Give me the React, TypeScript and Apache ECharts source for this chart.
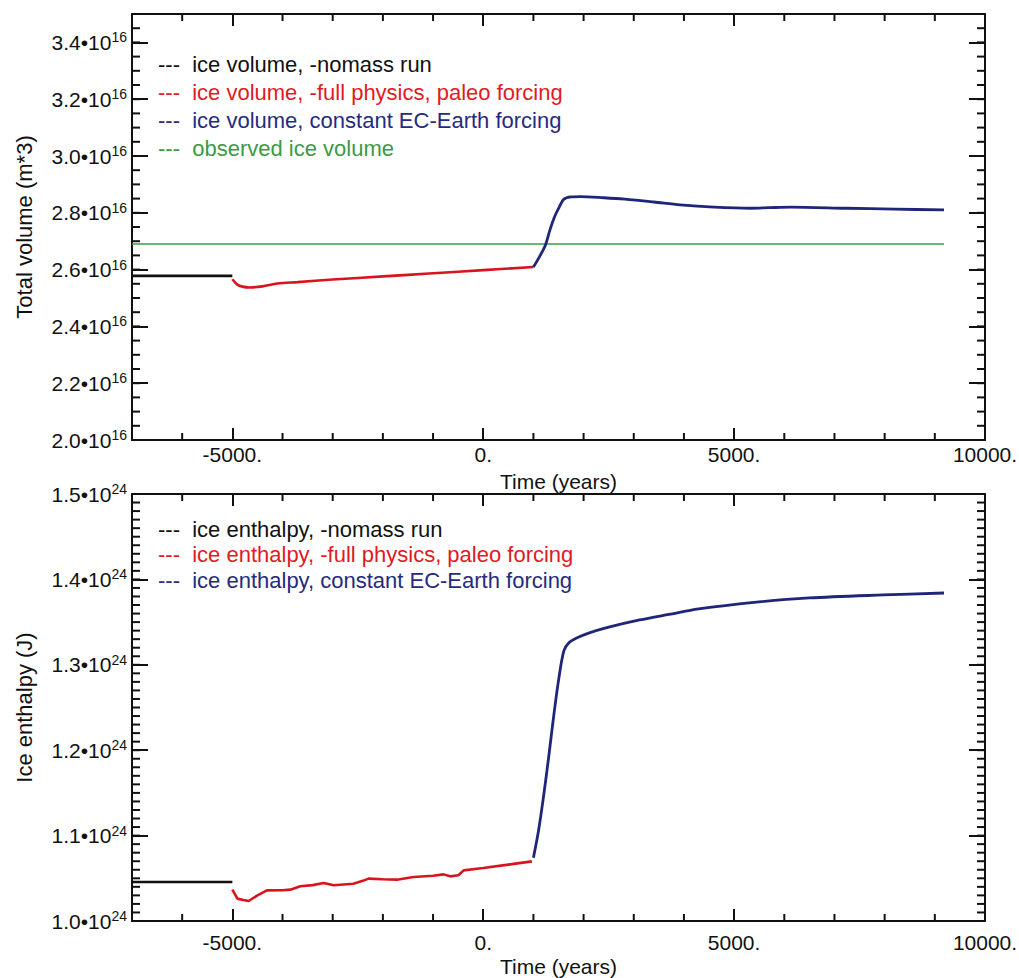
import React, { useEffect, useRef } from 'react';
import * as echarts from 'echarts';

// ---------- axis / tick definitions ----------
const xRange = [-7000, 10000];
const xMajorTicks = [-5000, 0, 5000, 10000];
const xMinorTicks = [-7000, -6000, -4000, -3000, -2000, -1000, 1000, 2000, 3000, 4000, 6000, 7000, 8000, 9000];
const volRange = [2.0, 3.5];
const volMajorTicks = [2.0, 2.2, 2.4, 2.6, 2.8, 3.0, 3.2, 3.4];
const enthRange = [1.0, 1.5];
const enthMajorTicks = [1.0, 1.1, 1.2, 1.3, 1.4, 1.5];
const volMinorTicks: number[] = [];
for (let i = 1; i < 30; i++) volMinorTicks.push(Math.round((2.0 + 0.05 * i) * 1000) / 1000);
const enthMinorTicks: number[] = [];
for (let i = 1; i < 50; i++) enthMinorTicks.push(Math.round((1.0 + 0.01 * i) * 1000) / 1000);

// ---------- top panel: total volume (units of 1e16 m^3) ----------
const volNomassYears = [-7000, -5000];
const volNomass = [2.578, 2.578];

const volPaleoYears = [-5000, -4900, -4800, -4660, -4400, -4100, -3700, -3000, -2000, -1000, 0, 1000];
const volPaleo = [2.566, 2.547, 2.540, 2.537, 2.541, 2.551, 2.556, 2.565, 2.576, 2.587, 2.598, 2.609];

const volECYears = [1000, 1120, 1240, 1330, 1424, 1520, 1608, 1750, 1938, 2400, 2820, 3400, 3924, 4600, 5323, 5700, 6131, 7235, 8200, 9183];
const volEC = [2.609, 2.645, 2.687, 2.740, 2.787, 2.822, 2.848, 2.856, 2.857, 2.853, 2.848, 2.838, 2.828, 2.820, 2.816, 2.818, 2.820, 2.816, 2.813, 2.810];

const volObsYears = [-7000, 9183];
const volObs = [2.690, 2.690];

// ---------- bottom panel: ice enthalpy (units of 1e24 J) ----------
const enthNomassYears = [-7000, -5000];
const enthNomass = [1.0456, 1.0456];

const enthPaleoYears = [-5000, -4900, -4780, -4675, -4500, -4310, -4000, -3845, -3645, -3400, -3180, -2980, -2590, -2400, -2285, -2000, -1720, -1390, -1000, -790, -660, -495, -390, 0, 500, 970];
const enthPaleo = [1.0367, 1.0262, 1.0245, 1.0234, 1.0300, 1.0359, 1.0360, 1.0367, 1.0406, 1.0420, 1.0444, 1.0418, 1.0437, 1.0470, 1.0496, 1.0488, 1.0484, 1.0515, 1.0530, 1.0546, 1.0523, 1.0535, 1.0593, 1.0620, 1.0660, 1.0698];

const enthECYears = [1000, 1100, 1200, 1300, 1400, 1500, 1608, 1717, 1850, 2086, 2500, 3116, 3700, 4293, 5396, 6500, 7970, 9183];
const enthEC = [1.074, 1.105, 1.145, 1.190, 1.238, 1.2815, 1.3166, 1.3263, 1.331, 1.3368, 1.344, 1.3525, 1.359, 1.3654, 1.3731, 1.3783, 1.3818, 1.3841];

// ---------- legend labels ----------
const volLegend = [
  { text: 'ice volume, -nomass run', color: '#111111' },
  { text: 'ice volume, -full physics, paleo forcing', color: '#e01b24' },
  { text: 'ice volume, constant EC-Earth forcing', color: '#262b7e' },
  { text: 'observed ice volume', color: '#3a9a45' },
];
const enthLegend = [
  { text: 'ice enthalpy, -nomass run', color: '#111111' },
  { text: 'ice enthalpy, -full physics, paleo forcing', color: '#e01b24' },
  { text: 'ice enthalpy, constant EC-Earth forcing', color: '#262b7e' },
];

const FONT = '"Liberation Sans", Arial, Helvetica, sans-serif';
const INK = '#111111';
const axisLine = { color: INK, width: 2 };

const zip = (xs: number[], ys: number[]) => xs.map((x, i) => [x, ys[i]]);

function xAxesFor(grid: number, labelMargin: number, nameGap: number) {
  const base = {
    gridIndex: grid,
    type: 'value',
    min: xRange[0],
    max: xRange[1],
    splitLine: { show: false },
  };
  return [
    {
      ...base,
      position: 'bottom',
      axisLine: { show: true, onZero: false, lineStyle: axisLine },
      axisTick: { show: true, inside: true, length: 12, customValues: xMajorTicks, lineStyle: { color: INK, width: 2 } },
      axisLabel: {
        show: true,
        customValues: xMajorTicks,
        formatter: (v: number) => `${v}.`,
        fontSize: 21,
        fontFamily: FONT,
        color: INK,
        margin: labelMargin,
      },
      name: 'Time (years)',
      nameLocation: 'middle',
      nameGap,
      nameTextStyle: { fontSize: 21, fontFamily: FONT, color: INK },
    },
    {
      ...base,
      position: 'top',
      axisLine: { show: true, onZero: false, lineStyle: axisLine },
      axisTick: { show: true, inside: true, length: 12, customValues: xMajorTicks, lineStyle: { color: INK, width: 2 } },
      axisLabel: { show: false },
    },
  ];
}

function yAxesFor(grid: number, range: number[], major: number[], exp: string, name: string) {
  const base = {
    gridIndex: grid,
    type: 'value',
    min: range[0],
    max: range[1],
    splitLine: { show: false },
  };
  return [
    {
      ...base,
      position: 'left',
      axisLine: { show: true, onZero: false, lineStyle: axisLine },
      axisTick: { show: true, inside: true, length: 16, customValues: major, lineStyle: { color: INK, width: 2 } },
      axisLabel: {
        show: true,
        margin: 5,
        customValues: major,
        formatter: (v: number) => `{a|${v.toFixed(1)}\u202210}{b|${exp}}`,
        rich: {
          a: { fontSize: 21, lineHeight: 24, fontFamily: FONT, color: INK },
          b: { fontSize: 14, lineHeight: 14, fontFamily: FONT, color: INK, verticalAlign: 'top' },
        },
      },
      name,
      nameLocation: 'middle',
      nameGap: 97,
      nameTextStyle: { fontSize: 22, fontFamily: FONT, color: INK },
    },
    {
      ...base,
      position: 'right',
      axisLine: { show: true, onZero: false, lineStyle: axisLine },
      axisTick: { show: true, inside: true, length: 16, customValues: major, lineStyle: { color: INK, width: 2 } },
      axisLabel: { show: false },
    },
  ];
}

function lineSeries(name: string, data: number[][], color: string, axisIdx: number, width: number, smooth: number | boolean) {
  return {
    type: 'line',
    name,
    data,
    xAxisIndex: axisIdx,
    yAxisIndex: axisIdx,
    showSymbol: false,
    symbol: 'none',
    smooth,
    lineStyle: { color, width },
    itemStyle: { color },
    z: 3,
  };
}

function legendGraphics(items: { text: string; color: string }[], x: number, y0: number, step: number) {
  return items.map((it, i) => ({
    type: 'text',
    x,
    y: y0 + i * step,
    style: {
      text: `---  ${it.text}`,
      fill: it.color,
      fontSize: 22,
      fontFamily: FONT,
      verticalAlign: 'middle',
      align: 'left',
    },
    z: 10,
  }));
}

// minor tick marks placed through the chart's own scales
function minorTickGraphics(chart: any, grid: number, yRange: number[], yMinor: number[]) {
  const out: any[] = [];
  const px = (x: number, y: number) => chart.convertToPixel({ gridIndex: grid }, [x, y]) as number[];
  const T = 2;
  const vBar = (a: number[], len: number, up: boolean) => ({
    type: 'rect',
    silent: true,
    z: 20,
    shape: { x: a[0] - T / 2, y: up ? a[1] - len : a[1], width: T, height: len },
    style: { fill: INK },
  });
  const hBar = (a: number[], len: number, right: boolean) => ({
    type: 'rect',
    silent: true,
    z: 20,
    shape: { x: right ? a[0] : a[0] - len, y: a[1] - T / 2, width: len, height: T },
    style: { fill: INK },
  });
  xMinorTicks.forEach((v) => {
    out.push(vBar(px(v, yRange[0]), 7, true));
    out.push(vBar(px(v, yRange[1]), 7, false));
  });
  yMinor.forEach((v) => {
    out.push(hBar(px(xRange[0], v), 8, true));
    out.push(hBar(px(xRange[1], v), 8, false));
  });
  return out;
}

export default function App() {
  const ref = useRef<HTMLDivElement>(null);
  useEffect(() => {
    if (!ref.current) return;
    const chart = echarts.init(ref.current, null, { renderer: 'svg' });
    const option: any = {
      animation: false,
      backgroundColor: '#ffffff',
      grid: [
        { left: 132, right: 34, top: 14, height: 426, outerBoundsMode: 'none', containLabel: false },
        { left: 132, right: 34, top: 494, height: 427, outerBoundsMode: 'none', containLabel: false },
      ],
      xAxis: [...xAxesFor(0, 4, 31), ...xAxesFor(1, 11, 35)],
      yAxis: [
        ...yAxesFor(0, volRange, volMajorTicks, '16', 'Total volume (m*3)'),
        ...yAxesFor(1, enthRange, enthMajorTicks, '24', 'Ice enthalpy (J)'),
      ],
      series: [
        lineSeries('observed ice volume', zip(volObsYears, volObs), '#3c9a44', 0, 1.6, false),
        lineSeries('ice volume, -nomass run', zip(volNomassYears, volNomass), '#111111', 0, 2.6, false),
        lineSeries('ice volume, -full physics, paleo forcing', zip(volPaleoYears, volPaleo), '#d8141e', 0, 2.6, 0.3),
        lineSeries('ice volume, constant EC-Earth forcing', zip(volECYears, volEC), '#1f2577', 0, 2.8, 0.3),
        lineSeries('ice enthalpy, -nomass run', zip(enthNomassYears, enthNomass), '#111111', 2, 2.6, false),
        lineSeries('ice enthalpy, -full physics, paleo forcing', zip(enthPaleoYears, enthPaleo), '#d8141e', 2, 2.6, false),
        lineSeries('ice enthalpy, constant EC-Earth forcing', zip(enthECYears, enthEC), '#1f2577', 2, 2.8, 0.3),
      ],
    };
    chart.setOption(option);
    const graphics = [
      ...legendGraphics(volLegend, 158, 64, 28.3),
      ...legendGraphics(enthLegend, 158, 529, 25.5),
      ...minorTickGraphics(chart, 0, volRange, volMinorTicks),
      ...minorTickGraphics(chart, 1, enthRange, enthMinorTicks),
    ];
    chart.setOption({ graphic: { elements: graphics } });
    return () => chart.dispose();
  }, []);
  return (
    <div
      ref={ref}
      style={{ position: 'fixed', left: 0, top: 0, width: 1019, height: 978, background: '#fff' }}
    />
  );
}
